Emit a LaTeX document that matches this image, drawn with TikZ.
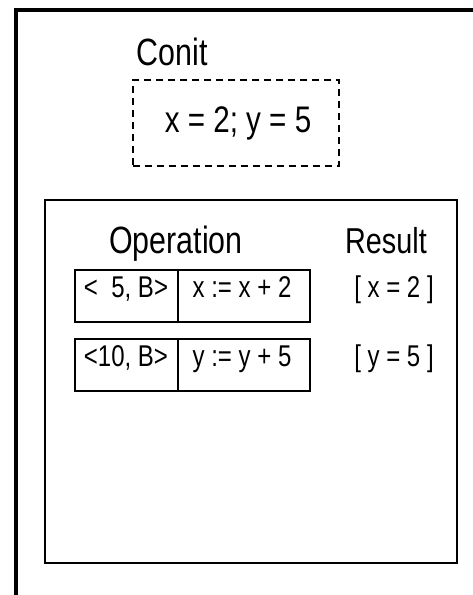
\documentclass[tikz,border=0pt]{standalone}
\usepackage{fontspec}
\setmainfont{Liberation Sans}[FakeStretch=0.8]
\begin{document}
\begin{tikzpicture}[x=1pt,y=-1pt,
  frame/.style={line width=4.5pt},
  panel/.style={draw,line width=2pt,inner sep=0pt},
  conitbox/.style={draw,dashed,dash pattern=on 7pt off 5pt,line width=1.6pt,inner sep=0pt},
  cell/.style={draw,line width=2pt,inner sep=0pt},
  txt/.style={inner sep=0pt,anchor=base},
  big/.style={txt,font=\fontsize{38}{42}\selectfont},
  mid/.style={txt,font=\fontsize{37}{41}\selectfont},
  small/.style={txt,font=\fontsize{30}{34}\selectfont}]
\useasboundingbox (0,0) rectangle (473,595);
\fill[white] (0,0) rectangle (473,595);
% outer frame
\coordinate (fb) at (16,595);
\coordinate (fc) at (16,10);
\coordinate (fr) at (473,10);
\draw[frame] (fb) -- (fc) -- (fr);
% conit
\node[big] (conit) at (172,65) {Conit};
\node[conitbox,minimum width=206pt,minimum height=86pt] (cbox) at (236,123) {};
\node[mid] (cval) at (238,132) {x = 2; y = 5};
% inner panel
\node[panel,minimum width=412pt,minimum height=363pt] (inner) at (251,381.5) {};
\node[big] (op) at (176,253) {Operation};
\node[big,font=\fontsize{36}{40}\selectfont] (res) at (386,253) {Result};
% rows
\node[cell,minimum width=103pt,minimum height=52pt] (r1a) at (126.5,296) {};
\node[cell,minimum width=132pt,minimum height=52pt] (r1b) at (244,296) {};
\node[cell,minimum width=103pt,minimum height=52pt] (r2a) at (126.5,365) {};
\node[cell,minimum width=132pt,minimum height=52pt] (r2b) at (244,365) {};
\node[small] (t1a) at (126,297) {<\ \ 5, B>};
\node[small] (t1b) at (242,297) {x := x + 2};
\node[small] (t2a) at (126,366) {<10, B>};
\node[small] (t2b) at (242,366) {y := y + 5};
\node[small] (res1) at (394,297) {[ x = 2 ]};
\node[small] (res2) at (394,366) {[ y = 5 ]};
\end{tikzpicture}
\end{document}
